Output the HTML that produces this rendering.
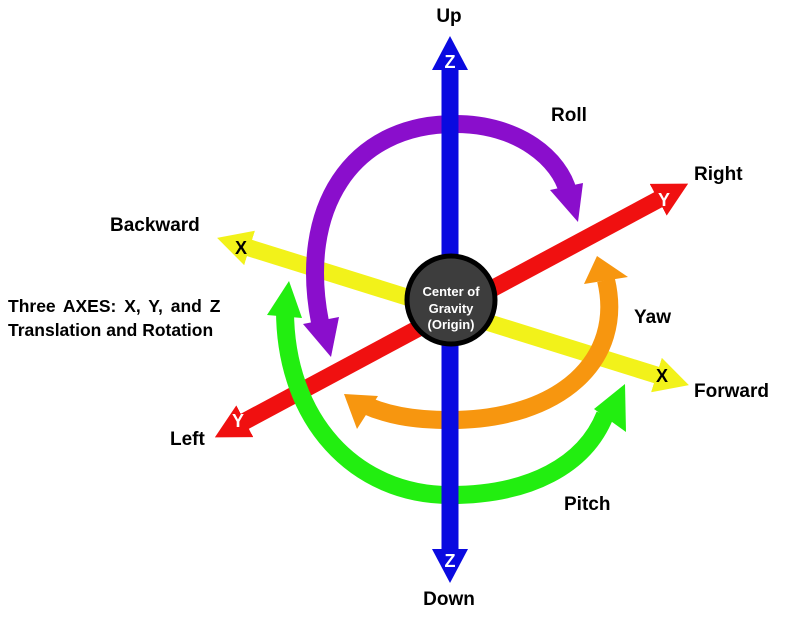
<!DOCTYPE html>
<html><head><meta charset="utf-8"><style>
html,body{margin:0;padding:0;background:#fff;}
svg{display:block;font-family:"Liberation Sans",sans-serif;font-weight:bold;}
</style></head><body>
<svg width="786" height="618" viewBox="0 0 786 618" xmlns="http://www.w3.org/2000/svg">
<defs>
<marker id="hy" markerUnits="userSpaceOnUse" viewBox="0 0 34 36" refX="10" refY="18" markerWidth="34" markerHeight="36" orient="auto-start-reverse"><path d="M0 0 L34 18 L0 36 Z" fill="#f2f21a"/></marker>
<marker id="hr" markerUnits="userSpaceOnUse" viewBox="0 0 34 36" refX="10" refY="18" markerWidth="34" markerHeight="36" orient="auto-start-reverse"><path d="M0 0 L34 18 L0 36 Z" fill="#f01010"/></marker>
<marker id="hb" markerUnits="userSpaceOnUse" viewBox="0 0 34 36" refX="10" refY="18" markerWidth="34" markerHeight="36" orient="auto-start-reverse"><path d="M0 0 L34 18 L0 36 Z" fill="#0a0ae0"/></marker>
</defs>
<line x1="240" y1="245" x2="666" y2="378" stroke="#f2f21a" stroke-width="17" marker-start="url(#hy)" marker-end="url(#hy)"/>
<line x1="236" y1="426" x2="667" y2="195" stroke="#f01010" stroke-width="17" marker-start="url(#hr)" marker-end="url(#hr)"/>
<path d="M320 322 C298 210,350 124,455 124 C520 124,560 160,568 192" fill="none" stroke="#8a0ecc" stroke-width="18"/>
<polygon points="303,324 339,317 331,357" fill="#8a0ecc"/>
<polygon points="550,190 583,183 578,222" fill="#8a0ecc"/>
<path d="M285 310 C285 420,355 495,450 495 C530 495,585 465,605 415" fill="none" stroke="#22ee10" stroke-width="18"/>
<polygon points="289,281 267,315 302,318" fill="#22ee10"/>
<polygon points="625,384 594,409 626,432" fill="#22ee10"/>
<path d="M606 280 C625 360,560 420,450 420 C410 420,385 414,365 405" fill="none" stroke="#f7960f" stroke-width="18"/>
<polygon points="597,256 584,284 628,277" fill="#f7960f"/>
<polygon points="344,394 357,429 378,396" fill="#f7960f"/>
<line x1="450" y1="60" x2="450" y2="559" stroke="#0a0ae0" stroke-width="17" marker-start="url(#hb)" marker-end="url(#hb)"/>
<circle cx="451" cy="300" r="44" fill="#3d3d3d" stroke="#000" stroke-width="5"/>
<g fill="#fff" font-size="13" text-anchor="middle">
<text x="451" y="296">Center of</text>
<text x="451" y="313">Gravity</text>
<text x="451" y="329">(Origin)</text>
</g>
<g font-size="18" text-anchor="middle">
<text x="241" y="254" fill="#000">X</text>
<text x="662" y="382" fill="#000">X</text>
<text x="664" y="206" fill="#fff">Y</text>
<text x="238" y="427" fill="#fff">Y</text>
<text x="450" y="68" fill="#fff">Z</text>
<text x="450" y="567" fill="#fff">Z</text>
</g>
<g font-size="19" fill="#000">
<text x="449" y="22" text-anchor="middle">Up</text>
<text x="551" y="121">Roll</text>
<text x="694" y="180">Right</text>
<text x="110" y="231">Backward</text>
<text x="634" y="323">Yaw</text>
<text x="694" y="397">Forward</text>
<text x="170" y="445">Left</text>
<text x="564" y="510">Pitch</text>
<text x="449" y="605" text-anchor="middle">Down</text>
</g>
<g font-size="17.5" fill="#000">
<text x="8" y="312" word-spacing="3">Three AXES: X, Y, and Z</text>
<text x="8" y="336">Translation and Rotation</text>
</g>
</svg>
</body></html>
